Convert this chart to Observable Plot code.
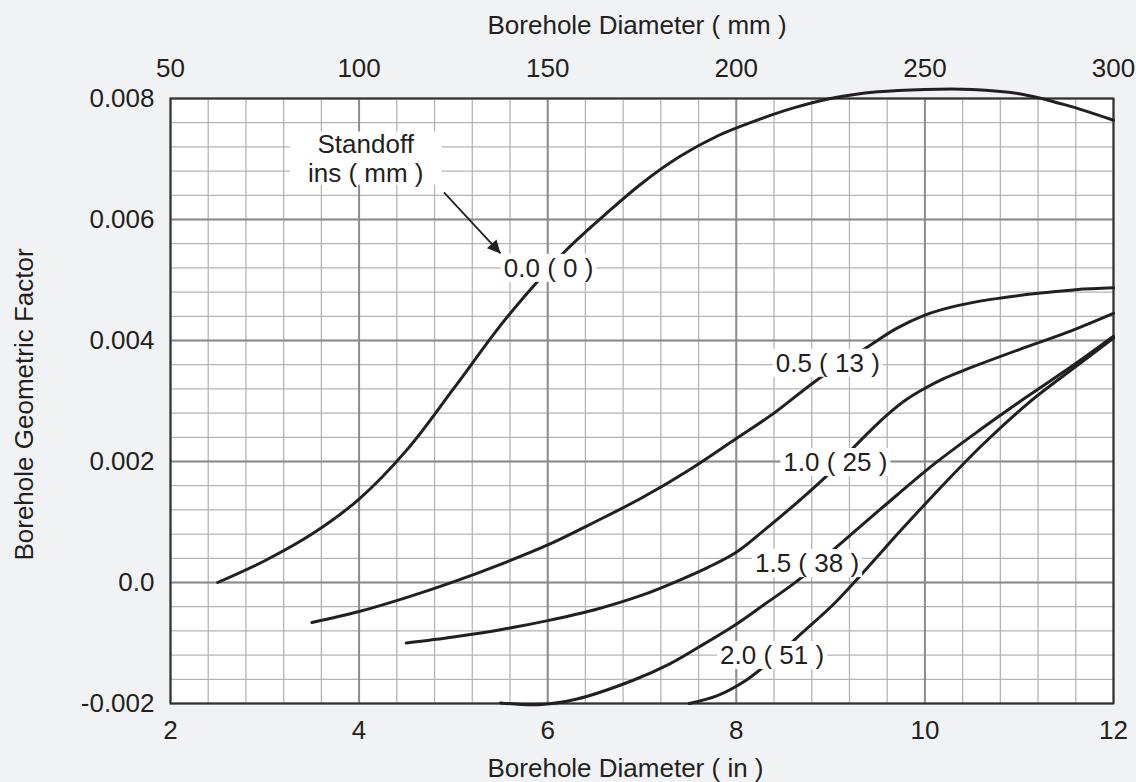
<!DOCTYPE html>
<html><head><meta charset="utf-8">
<script src="https://cdn.jsdelivr.net/npm/d3@7"></script>
<script src="https://cdn.jsdelivr.net/npm/@observablehq/plot@0.6"></script>
<style>
html,body{margin:0;padding:0;background:#f1f2f4;}
#chart svg{display:block;}
</style></head><body><div id="chart"></div>
<script>
// ---- data (borehole diameter in inches, borehole geometric factor) ----
const curve00 = [[2.5,0.0],[3.0,0.00036],[3.5,0.0008],[4.0,0.00138],[4.5,0.00218],[5.0,0.0032],[5.5,0.00425],[5.85,0.0049],[6.2,0.0055],[6.6,0.00607],[7.0,0.0066],[7.4,0.00704],[7.8,0.00738],[8.2,0.00763],[8.6,0.00784],[9.0,0.008],[9.5,0.00811],[10.0,0.00815],[10.5,0.00815],[11.0,0.00808],[11.5,0.00789],[12.0,0.00764]];
const curve05 = [[3.5,-0.00066],[4.0,-0.00048],[4.5,-0.00025],[5.0,0.00001],[5.5,0.0003],[6.0,0.00062],[6.5,0.001],[7.0,0.0014],[7.5,0.00186],[8.0,0.00238],[8.4,0.0028],[8.85,0.00334],[9.4,0.0039],[9.7,0.0042],[10.0,0.00442],[10.3,0.00456],[10.7,0.00468],[11.2,0.00478],[11.6,0.00484],[12.0,0.00487]];
const curve10 = [[4.5,-0.001],[5.0,-0.0009],[5.5,-0.00078],[6.0,-0.00063],[6.5,-0.00045],[7.0,-0.00021],[7.4,0.00004],[7.7,0.00025],[8.0,0.0005],[8.3,0.00087],[8.65,0.00133],[8.95,0.00175],[9.3,0.00232],[9.6,0.00277],[9.8,0.00302],[10.0,0.00321],[10.2,0.00337],[10.45,0.00353],[11.0,0.00385],[11.5,0.00413],[12.0,0.00445]];
const curve15 = [[5.5,-0.00199],[5.9,-0.00202],[6.3,-0.00193],[6.9,-0.00162],[7.3,-0.00134],[7.6,-0.00107],[8.0,-0.00069],[8.3,-0.00036],[8.65,0.00003],[9.05,0.00057],[9.55,0.00124],[10.1,0.00196],[10.6,0.00254],[11.1,0.00309],[11.6,0.00362],[12.0,0.00407]];
const curve20 = [[7.5,-0.002],[7.8,-0.00187],[8.1,-0.00162],[8.4,-0.00125],[8.7,-0.00083],[9.05,-0.00033],[9.4,0.00026],[9.75,0.00087],[10.1,0.00146],[10.6,0.00226],[11.1,0.00297],[11.6,0.00357],[12.0,0.00404]];

const curveLabels = ["0.0 ( 0 )","0.5 ( 13 )","1.0 ( 25 )","1.5 ( 38 )","2.0 ( 51 )"];
const labelX = [6.01, 8.97, 9.05, 8.75, 8.38];
const labelY = [0.00519, 0.00362, 0.00198, 0.00031, -0.00121];
const legendTitle = ["Standoff\nins ( mm )"];
const legendX = [4.07];
const legendY = [0.00702];
const arrowFrom = [4.9, 0.00645];
const arrowTo = [5.5, 0.00544];

const inTicks = [2,4,6,8,10,12];
const mmTickLabels = ["50","100","150","200","250","300"];
const yTicks = [-0.002,0,0.002,0.004,0.006,0.008];
const yTickLabels = ["-0.002","0.0","0.002","0.004","0.006","0.008"];
const xTitle = "Borehole Diameter ( in )";
const x2Title = "Borehole Diameter ( mm )";
const yTitle = "Borehole Geometric Factor";

const xMinor = d3.range(0,26).map(i => 2 + i*0.4);
const yMinor = d3.range(0,26).map(i => -0.002 + i*0.0004);
const mmMap = new Map(inTicks.map((t,i)=>[t, mmTickLabels[i]]));
const yMap = new Map(yTicks.map((t,i)=>[t, yTickLabels[i]]));

const series = [curve00, curve05, curve10, curve15, curve20];
const lineData = series.flatMap((c,k)=>c.map(([x,y])=>({x,y,k})));
const labelData = curveLabels.map((t,i)=>({t, x:labelX[i], y:labelY[i]}));
const ink = "#231f20";
const FS = 26;

const chart = Plot.plot({
  width:1136, height:782,
  marginLeft:170, marginRight:23, marginTop:98, marginBottom:79,
  x:{domain:[2,12]},
  y:{domain:[-0.002,0.008]},
  style:{background:"#f1f2f4", fontFamily:"'Liberation Sans', Arial, Helvetica, sans-serif", fontSize:FS+"px", color:ink},
  marks:[
    Plot.frame({fill:"white", stroke:null}),
    Plot.gridX(xMinor, {stroke:"#b4b4b4", strokeOpacity:1, strokeWidth:1.3}),
    Plot.gridY(yMinor, {stroke:"#b4b4b4", strokeOpacity:1, strokeWidth:1.3}),
    Plot.gridX(inTicks, {stroke:"#8c8c8c", strokeOpacity:1, strokeWidth:2}),
    Plot.gridY(yTicks, {stroke:"#8c8c8c", strokeOpacity:1, strokeWidth:2}),
    Plot.frame({stroke:"#333333", strokeWidth:2}),
    Plot.axisX(inTicks, {anchor:"bottom", tickSize:0, tickPadding:17, label:null, fontSize:FS, tickFormat:d=>String(d)}),
    Plot.axisX(inTicks, {anchor:"top", tickSize:0, tickPadding:22, label:null, fontSize:FS, tickFormat:d=>mmMap.get(d)}),
    Plot.axisY(yTicks, {anchor:"left", tickSize:0, tickPadding:16, label:null, fontSize:FS, tickFormat:d=>yMap.get(d)}),
    Plot.text([xTitle], {frameAnchor:"bottom-left", dx:317, dy:65, textAnchor:"start", lineAnchor:"middle", fontSize:FS, fill:ink}),
    Plot.text([x2Title], {frameAnchor:"top-left", dx:317, dy:-72.5, textAnchor:"start", lineAnchor:"middle", fontSize:FS, fill:ink}),
    Plot.text([yTitle], {frameAnchor:"left", dx:-146, dy:3.5, rotate:-90, textAnchor:"middle", lineAnchor:"middle", fontSize:FS, fill:ink}),
    Plot.line(lineData, {x:"x", y:"y", z:"k", curve:"catmull-rom", stroke:ink, strokeWidth:3}),
    Plot.text(labelData, {x:"x", y:"y", text:"t", fontSize:FS, fill:ink, ariaDescription:"curve-labels"}),
    Plot.text(legendTitle, {x:()=>legendX[0], y:()=>legendY[0], fontSize:FS, fill:ink, lineHeight:1.12, ariaDescription:"legend-title"}),
    Plot.link([0], {x1:()=>arrowFrom[0], y1:()=>arrowFrom[1], x2:()=>arrowTo[0], y2:()=>arrowTo[1], stroke:ink, strokeWidth:1.8, ariaDescription:"standoff-arrow"})
  ]
});

document.getElementById("chart").appendChild(chart);

const svg = d3.select(chart);
// solid arrowhead marker
const defs = svg.insert("defs", ":first-child");
defs.append("marker").attr("id","ah").attr("viewBox","0 0 10 10").attr("refX",10).attr("refY",5)
  .attr("markerUnits","userSpaceOnUse").attr("markerWidth",18).attr("markerHeight",13).attr("orient","auto")
  .append("path").attr("d","M0,0L10,5L0,10Z").attr("fill",ink);
svg.selectAll('g[aria-description="standoff-arrow"] path, g[aria-description="standoff-arrow"] line').attr("marker-end","url(#ah)");

// white boxes behind labels
function boxes(sel, px, py){
  svg.selectAll(sel).each(function(){
    const b = this.getBBox();
    const r = document.createElementNS("http://www.w3.org/2000/svg","rect");
    r.setAttribute("x", b.x - px); r.setAttribute("y", b.y - py);
    r.setAttribute("width", b.width + 2*px); r.setAttribute("height", b.height + 2*py);
    r.setAttribute("fill","white"); r.setAttribute("stroke","none");
    const tr = this.getAttribute("transform"); if (tr) r.setAttribute("transform", tr);
    this.parentNode.insertBefore(r, this);
  });
}
boxes('g[aria-description="curve-labels"] text', 3, -1);
boxes('g[aria-description="legend-title"] text', 18, -3);
</script></body></html>
